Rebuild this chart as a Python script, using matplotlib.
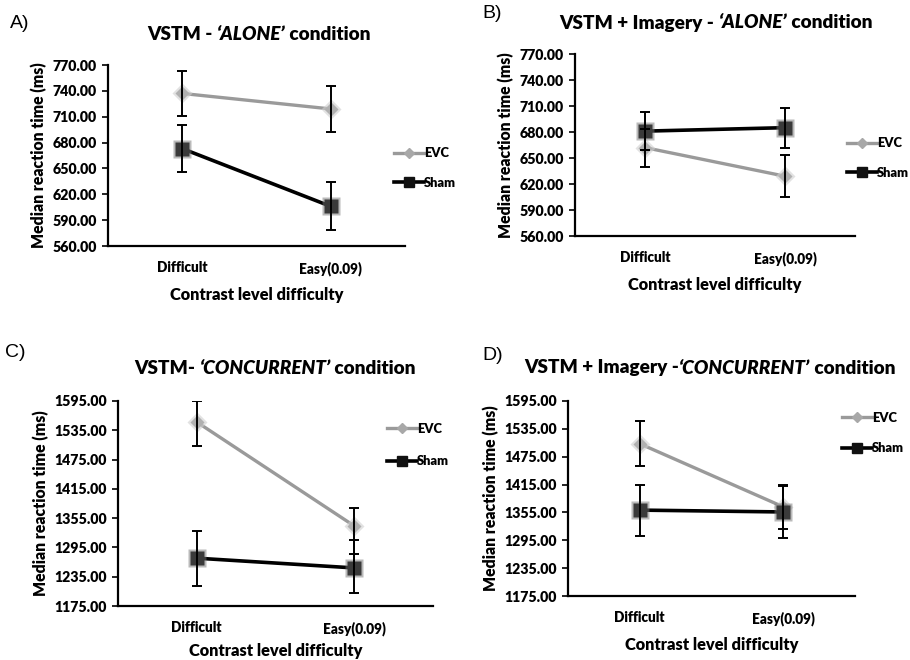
import matplotlib
matplotlib.use("Agg")
import matplotlib.pyplot as plt
from matplotlib.offsetbox import TextArea, HPacker, AnnotationBbox
from matplotlib.lines import Line2D
import numpy as np

# ---------------- data ----------------
categories = ["Difficult", "Easy(0.09)"]

# Panel A: VSTM - ALONE
a_evc = [737, 719]
a_evc_err = [26, 27]
a_sham = [673, 606]
a_sham_err = [27, 28]

# Panel B: VSTM + Imagery - ALONE
b_evc = [662, 629]
b_evc_err = [22, 24]
b_sham = [681, 685]
b_sham_err = [22, 23]

# Panel C: VSTM - CONCURRENT (asymmetric: lower, upper)
c_evc = [1552, 1339]
c_evc_lo = [50, 57]
c_evc_hi = [42, 36]
c_sham = [1273, 1253]
c_sham_lo = [56, 52]
c_sham_hi = [55, 57]

# Panel D: VSTM + Imagery - CONCURRENT
d_evc = [1503, 1367]
d_evc_err = [48, 48]
d_sham = [1360, 1356]
d_sham_err = [55, 56]

ylim_alone = (560, 770)
ystep_alone = 30
ylim_conc = (1175, 1595)
ystep_conc = 60

series_names = ["EVC", "Sham"]

EVC_COL = "#9a9a9a"
SHAM_COL = "#000000"
SHAM_MARK = "#3a3a3a"
FONT = "Lato"
WT = 800

fig = plt.figure(figsize=(9.1, 6.6), dpi=100)
W, H = 910, 660


def fig_rect(x0, y0, x1, y1):
    return [x0 / W, 1 - y1 / H, (x1 - x0) / W, (y1 - y0) / H]


def draw_panel(rect, evc, evc_err, sham, sham_err, ylim, ystep, legend_xy, leg_spacing,
               xlabelpad=8):
    ax = fig.add_axes(rect)
    x = np.arange(len(categories))
    # lines + markers
    ax.plot(x, evc, color=EVC_COL, lw=2.4, zorder=2)
    ax.plot(x, sham, color=SHAM_COL, lw=2.6, zorder=2)
    # glow markers
    ax.plot(x, evc, ls="none", marker="D", ms=10, color="#cfcfcf", alpha=0.6, mec="none", zorder=3)
    ax.plot(x, evc, ls="none", marker="D", ms=7.5, color="#b0b0b0", mec="none", zorder=3)
    ax.plot(x, sham, ls="none", marker="s", ms=12.5, color="#777777", alpha=0.5, mec="none", zorder=3)
    ax.plot(x, sham, ls="none", marker="s", ms=10.5, color=SHAM_MARK, mec="none", zorder=3)
    # error bars on top
    ax.errorbar(x, evc, yerr=evc_err, fmt="none", ecolor="black", elinewidth=1.4,
                capsize=3.5, capthick=1.4, zorder=4)
    ax.errorbar(x, sham, yerr=sham_err, fmt="none", ecolor="black", elinewidth=1.4,
                capsize=3.5, capthick=1.4, zorder=4)
    ax.set_xlim(-0.5, len(categories) - 0.5)
    ax.set_ylim(*ylim)
    ticks = np.arange(ylim[0], ylim[1] + 1, ystep)
    ax.set_yticks(ticks)
    ax.set_yticklabels(["%.2f" % v for v in ticks],
                       fontfamily=FONT, fontweight=WT, fontsize=10.2)
    ax.set_xticks(x)
    ax.set_xticklabels(categories, fontfamily=FONT, fontweight=WT, fontsize=9.8)
    ax.tick_params(axis="x", length=0, pad=11)
    ax.tick_params(axis="y", length=4, width=1.2, pad=4, direction="out")
    for s in ["top", "right"]:
        ax.spines[s].set_visible(False)
    for s in ["left", "bottom"]:
        ax.spines[s].set_linewidth(1.6)
    ax.set_ylabel("Median reaction time (ms)", fontfamily=FONT, fontweight=WT, fontsize=11.3)
    ax.set_xlabel("Contrast level difficulty", fontfamily=FONT, fontweight=WT, fontsize=11.8,
                  labelpad=xlabelpad)
    handles = [
        Line2D([], [], color=EVC_COL, lw=2.4, marker="D", ms=5, mfc="#a8a8a8", mec="#a8a8a8"),
        Line2D([], [], color=SHAM_COL, lw=2.6, marker="s", ms=7, mfc="#111111", mec="#111111"),
    ]
    ax.legend(handles, series_names, loc="center left",
              bbox_to_anchor=(legend_xy[0] / W, 1 - legend_xy[1] / H),
              bbox_transform=fig.transFigure, frameon=False, handlelength=2.3,
              handletextpad=0.0, labelspacing=leg_spacing, borderpad=0,
              prop=dict(family=FONT, weight=WT, size=9.3))
    return ax


def title_parts(cx, cy, parts, size=13.7):
    kids = []
    for txt, italic in parts:
        kids.append(TextArea(txt, textprops=dict(fontfamily=FONT, fontweight=WT,
                                                  fontstyle="italic" if italic else "normal",
                                                  fontsize=size)))
    pack = HPacker(children=kids, align="baseline", pad=0, sep=0)
    ab = AnnotationBbox(pack, (cx / W, 1 - cy / H), xycoords="figure fraction",
                        frameon=False, box_alignment=(0.5, 0.5), pad=0)
    fig.add_artist(ab)


def letter(x, y, s):
    fig.text(x / W, 1 - y / H, s, fontfamily="Liberation Sans", fontsize=14,
             ha="left", va="center")


axA = draw_panel(fig_rect(108, 65, 405, 246), a_evc, a_evc_err, a_sham, a_sham_err,
                 ylim_alone, ystep_alone, (388, 168), 1.35)
axB = draw_panel(fig_rect(575, 54, 855, 236), b_evc, b_evc_err, b_sham, b_sham_err,
                 ylim_alone, ystep_alone, (841, 158), 1.35)
axC = draw_panel(fig_rect(118, 401, 433, 606), c_evc, [c_evc_lo, c_evc_hi], c_sham,
                 [c_sham_lo, c_sham_hi], ylim_conc, ystep_conc, (381, 445), 1.6,
                 xlabelpad=5)
axD = draw_panel(fig_rect(568, 401, 855, 596), d_evc, d_evc_err, d_sham, d_sham_err,
                 ylim_conc, ystep_conc, (836, 433), 1.45)

title_parts(259, 35, [("VSTM - ", False), ("\u2018ALONE\u2019", True), (" condition", False)])
title_parts(716, 23, [("VSTM + Imagery - ", False), ("\u2018ALONE\u2019", True), (" condition", False)])
title_parts(275, 368, [("VSTM- ", False), ("\u2018CONCURRENT\u2019", True), (" condition", False)])
title_parts(710, 368, [("VSTM + Imagery -", False), ("\u2018CONCURRENT\u2019", True), (" condition", False)])

letter(10, 24, "A)")
letter(482, 14, "B)")
letter(5, 353, "C)")
letter(482, 356, "D)")

fig.savefig("out.png", dpi=100)
